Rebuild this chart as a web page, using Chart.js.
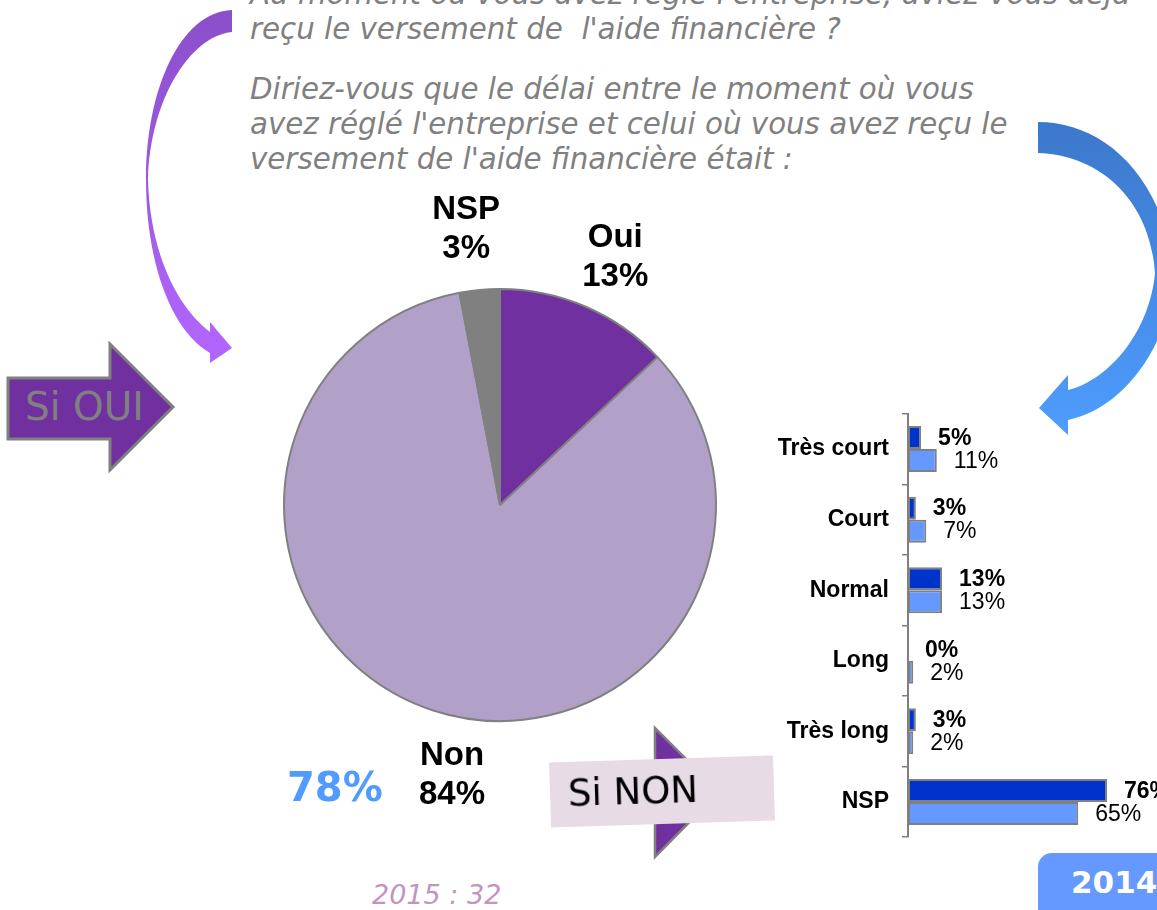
<!DOCTYPE html>
<html><head><meta charset="utf-8">
<script src="https://cdn.jsdelivr.net/npm/chart.js@4.4.1/dist/chart.umd.min.js"></script>
<style>
html,body{margin:0;padding:0;width:1157px;height:910px;overflow:hidden;background:#fff;}
.abs{position:absolute;}
.q{position:absolute;left:250px;font-family:"DejaVu Sans",Verdana,sans-serif;font-style:italic;font-size:29.3px;color:#808080;white-space:pre;line-height:35px;}
</style></head><body>
<svg class="abs" style="left:0;top:0" width="1157" height="910">
  <defs>
    <linearGradient id="gl" x1="0" y1="0" x2="0" y2="1">
      <stop offset="0" stop-color="#8A4FCA"/>
      <stop offset="1" stop-color="#B366FF"/>
    </linearGradient>
    <linearGradient id="gr" x1="0" y1="0" x2="0" y2="1">
      <stop offset="0" stop-color="#3C78CB"/>
      <stop offset="1" stop-color="#4E9DFF"/>
    </linearGradient>
  </defs>
  <path fill="url(#gl)" d="M232 10 L232 32 C190 36 150 100 148 180 C150 250 175 305 210 332 L210 322 L232 348 L210 363 L210 353 C170 330 146 260 146 180 C146 90 180 12 232 10 Z"/>
  <path fill="url(#gr)" d="M1038 122 C1100 122 1160 170 1175 270 C1170 350 1120 410 1068 420 L1068 435 L1039 408 L1068 375 L1068 390 C1110 380 1150 330 1155 273 C1150 200 1100 155 1038 153 Z"/>
  <polygon points="8,378 110,378 110,344 173,407 110,470 110,439 8,439" fill="#7030A0" stroke="#808080" stroke-width="3"/>
  <polygon points="570,772 655,772 655,728 719,792 655,857 655,812 570,812" fill="#7030A0" stroke="#808080" stroke-width="2.5"/>
  <rect x="550" y="759" width="224" height="65" fill="#E7DBE5" transform="rotate(-1.8 662 791)"/>
  <rect x="1038" y="853" width="160" height="90" rx="14" ry="14" fill="#6699FF"/>
</svg>

<div class="q" style="top:-23px">Au moment où vous avez réglé l'entreprise, aviez-vous déjà</div>
<div class="q" style="top:12px">reçu le versement de  l'aide financière ?</div>
<div class="q" style="top:72px">Diriez-vous que le délai entre le moment où vous
avez réglé l'entreprise et celui où vous avez reçu le
versement de l'aide financière était :</div>

<canvas id="pie" class="abs" style="left:270px;top:180px" width="460" height="660"></canvas>
<canvas id="bar" class="abs" style="left:740px;top:387px" width="460" height="477"></canvas>

<div class="abs" style="left:25px;top:384px;font-family:'DejaVu Sans',Verdana,sans-serif;font-size:39px;color:#808080;line-height:46px;">Si OUI</div>
<div class="abs" style="left:568px;top:769px;font-family:'DejaVu Sans',Verdana,sans-serif;font-size:37px;color:#000;line-height:44px;transform:rotate(-1.8deg);transform-origin:94px 22px;">Si NON</div>
<div class="abs" style="left:287px;top:763px;font-family:'DejaVu Sans',Verdana,sans-serif;font-weight:bold;font-size:40px;color:#519BFF;line-height:48px;">78%</div>
<div class="abs" style="left:372px;top:879px;font-family:'DejaVu Sans',Verdana,sans-serif;font-style:italic;font-size:27px;color:#C294C2;line-height:32px;">2015 : 32</div>
<div class="abs" style="left:1071px;top:864px;font-family:'DejaVu Sans',Verdana,sans-serif;font-weight:bold;font-size:31px;color:#fff;line-height:37px;">2014</div>

<script>
// ---- Data ----
const pieLabels = ['Oui', 'Non', 'NSP'];
const pieValues = [13, 84, 3];
const pieColors = ['#7030A0', '#B1A0C7', '#808080'];

const barCategories = ['Très court', 'Court', 'Normal', 'Long', 'Très long', 'NSP'];
const values2015 = [5, 3, 13, 0, 3, 76];
const values2014 = [11, 7, 13, 2, 2, 65];

const FONT = '"Liberation Sans", Arial, sans-serif';

const pieLabelPlugin = {
  id: 'pieLabels',
  afterDatasetsDraw(chart, args, opts) {
    const ctx = chart.ctx;
    const meta = chart.getDatasetMeta(0);
    ctx.save();
    ctx.font = 'bold 33px ' + FONT;
    ctx.fillStyle = '#000';
    ctx.textAlign = 'center';
    ctx.textBaseline = 'alphabetic';
    meta.data.forEach((arc, i) => {
      const mid = (arc.startAngle + arc.endAngle) / 2;
      const x = arc.x + Math.cos(mid) * opts.radius + opts.nudge[i][0];
      const y = arc.y + Math.sin(mid) * opts.radius + opts.nudge[i][1];
      ctx.fillText(chart.data.labels[i], x, y - 7);
      ctx.fillText(chart.data.datasets[0].data[i] + '%', x, y + 32);
    });
    ctx.restore();
  }
};

new Chart(document.getElementById('pie'), {
  type: 'pie',
  data: {
    labels: pieLabels,
    datasets: [{
      data: pieValues,
      backgroundColor: pieColors,
      borderColor: '#808080',
      borderWidth: 2
    }]
  },
  options: {
    responsive: false,
    animation: false,
    events: [],
    layout: { padding: { left: 13, right: 13, top: 108, bottom: 118 } },
    plugins: {
      legend: { display: false },
      tooltip: { enabled: false },
      pieLabels: { radius: 275, nudge: [[6, 1], [37, 5], [-8, -5]] }
    }
  },
  plugins: [pieLabelPlugin]
});

const barLabelPlugin = {
  id: 'barLabels',
  afterDatasetsDraw(chart) {
    const ctx = chart.ctx;
    chart.data.datasets.forEach((ds, di) => {
      const meta = chart.getDatasetMeta(di);
      ctx.save();
      ctx.font = (di === 0 ? 'bold ' : '') + '23px ' + FONT;
      ctx.fillStyle = '#000';
      ctx.textBaseline = 'middle';
      ctx.textAlign = 'left';
      meta.data.forEach((bar, i) => {
        ctx.fillText(ds.data[i] + '%', bar.x + 17, bar.y + 1);
      });
      ctx.restore();
    });
  }
};

new Chart(document.getElementById('bar'), {
  type: 'bar',
  data: {
    labels: barCategories,
    datasets: [
      { label: '2015', data: values2015, backgroundColor: '#0033CC', borderColor: '#808080', borderWidth: 2, borderSkipped: false, categoryPercentage: 0.652, barPercentage: 1 },
      { label: '2014', data: values2014, backgroundColor: '#6699FF', borderColor: '#808080', borderWidth: 2, borderSkipped: false, categoryPercentage: 0.652, barPercentage: 1 }
    ]
  },
  options: {
    indexAxis: 'y',
    responsive: false,
    animation: false,
    events: [],
    layout: { padding: 0 },
    scales: {
      x: { display: false, min: 0, max: 111.5 },
      y: {
        afterFit: (scale) => { scale.width = 168; },
        grid: { drawOnChartArea: false, offset: true, color: '#808080', tickLength: 6, lineWidth: 1.5 },
        border: { color: '#808080', width: 2 },
        ticks: { color: '#000', padding: 13, font: { family: FONT, weight: 'bold', size: 23 } }
      }
    },
    plugins: { legend: { display: false }, tooltip: { enabled: false } }
  },
  plugins: [barLabelPlugin]
});
</script>
</body></html>
